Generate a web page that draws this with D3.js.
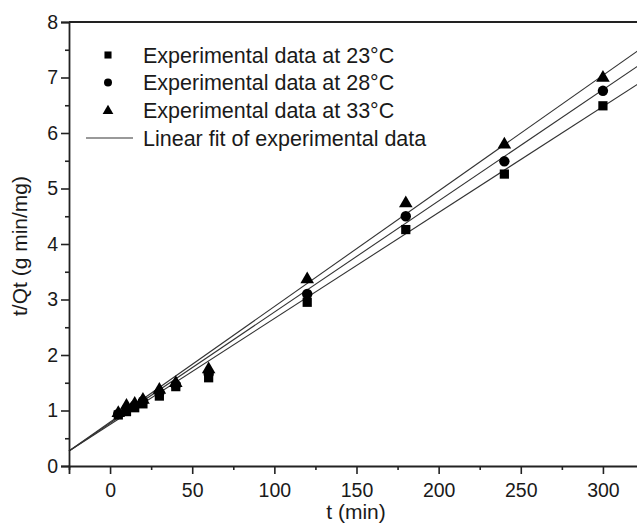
<!DOCTYPE html>
<html><head><meta charset="utf-8">
<script src="https://cdn.jsdelivr.net/npm/d3@7"></script>
<style>body{margin:0;background:#fff}svg{display:block}text{font-family:"Liberation Sans",Arial,sans-serif;fill:#1a1a1a}</style>
</head><body>
<svg id="c" width="637" height="524"></svg>
<script>
const times = [5, 10, 15, 20, 30, 40, 60, 120, 180, 240, 300];
const t23 = [0.92, 0.98, 1.05, 1.12, 1.26, 1.43, 1.59, 2.95, 4.26, 5.26, 6.49];
const t28 = [0.94, 1.03, 1.09, 1.17, 1.32, 1.46, 1.66, 3.10, 4.50, 5.49, 6.76];
const t33 = [0.97, 1.10, 1.14, 1.21, 1.39, 1.51, 1.76, 3.38, 4.75, 5.81, 7.01];
const seriesNames = ["Experimental data at 23°C", "Experimental data at 28°C", "Experimental data at 33°C"];
const fitLabel = "Linear fit of experimental data";
const fitSlopes = [0.0191, 0.02003, 0.02083];
const fitIntercepts = [0.747, 0.77, 0.79];
const xTicks = [0, 50, 100, 150, 200, 250, 300];
const yTicks = [0, 1, 2, 3, 4, 5, 6, 7, 8];

const svg = d3.select("#c");
const x = d3.scaleLinear().domain([-25, 325]).range([69, 644]);
const y = d3.scaleLinear().domain([0, 8]).range([466, 22]);

const plot = svg.append("g");
const fitDomain = [-25, 325];
[0,1,2].forEach(i=>{
  const line = d3.line().x(d=>x(d)).y(d=>y(fitIntercepts[i]+fitSlopes[i]*d));
  plot.append("path").attr("d", line(fitDomain)).attr("fill","none").attr("stroke","#333").attr("stroke-width",1.1);
});

const symbols = [d3.symbolSquare, d3.symbolCircle, d3.symbolTriangle];
const sizes = [85, 85, 80];
const data = [t23, t28, t33];
data.forEach((vals,i)=>{
  plot.selectAll(null).data(vals).enter().append("path")
    .attr("d", d3.symbol().type(symbols[i]).size(sizes[i]))
    .attr("transform",(d,j)=>`translate(${x(times[j])},${y(d) + (i===2?1:0)})`)
    .attr("fill","#000");
});

svg.append("line").attr("x1",69).attr("x2",644).attr("y1",22).attr("y2",22).attr("stroke","#222").attr("stroke-width",1.8);
svg.append("line").attr("x1",644).attr("x2",644).attr("y1",22).attr("y2",466).attr("stroke","#222").attr("stroke-width",1.8);

const xAxis = d3.axisBottom(x).tickValues(xTicks).tickSize(8).tickPadding(4);
const gx = svg.append("g").attr("transform","translate(0,466)").call(xAxis);
gx.selectAll("text").style("font-size","19.5px").attr("dy","0.95em");
const xMinor = d3.axisBottom(x).tickValues(d3.range(-25, 326, 25).filter(v=>v%50!==0)).tickSize(4).tickFormat("");
svg.append("g").attr("transform","translate(0,466)").call(xMinor).select(".domain").remove();

const yAxis = d3.axisLeft(y).tickValues(yTicks).tickSize(8).tickPadding(3);
const gy = svg.append("g").attr("transform","translate(69,0)").call(yAxis);
gy.selectAll("text").style("font-size","19.5px");
const yMinor = d3.axisLeft(y).tickValues(d3.range(0.5, 8, 1)).tickSize(4).tickFormat("");
svg.append("g").attr("transform","translate(69,0)").call(yMinor).select(".domain").remove();

svg.selectAll(".domain").attr("stroke","#222").attr("stroke-width",1.8);
svg.selectAll(".tick line").attr("stroke","#222").attr("stroke-width",1.6);

svg.append("text").attr("x",356).attr("y",519).attr("text-anchor","middle").style("font-size","21px").text("t (min)");
svg.append("text").attr("transform","translate(27,246) rotate(-90)").attr("text-anchor","middle").style("font-size","21px").text("t/Qt (g min/mg)");

const legY = [55, 82.5, 110, 138];
const leg = svg.append("g");
[0,1,2].forEach(i=>{
  leg.append("path").attr("d", d3.symbol().type(symbols[i]).size(50)).attr("transform",`translate(108,${legY[i]+(i===2?1:0)})`).attr("fill","#000");
  leg.append("text").attr("x",143).attr("y",legY[i]+7.5).style("font-size","21.5px").text(seriesNames[i]);
});
leg.append("line").attr("x1",86).attr("x2",133).attr("y1",legY[3]).attr("y2",legY[3]).attr("stroke","#777").attr("stroke-width",1.3);
leg.append("text").attr("x",143).attr("y",legY[3]+7.5).style("font-size","21.5px").text(fitLabel);
</script>
</body></html>
